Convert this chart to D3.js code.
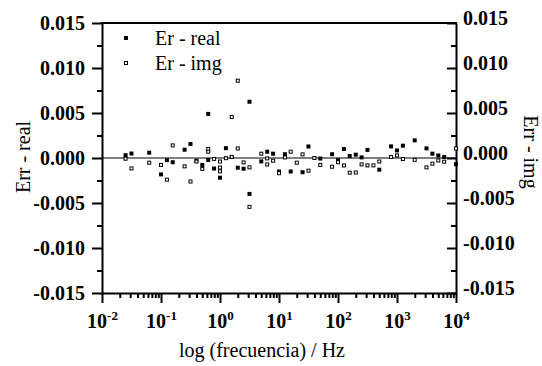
<!DOCTYPE html>
<html><head><meta charset="utf-8">
<script src="https://cdn.jsdelivr.net/npm/d3@7"></script>
<style>body{margin:0;background:#fff}svg{display:block}
svg text{font-family:"Liberation Serif",serif}
.b{font-weight:700}
</style>
</head><body>
<svg id="c" width="542" height="366"></svg>
<script>
const realFreq=[0.0251,0.0316,0.0631,0.1,0.126,0.158,0.251,0.316,0.398,0.501,0.631,0.631,0.794,1.0,1.26,1.58,2.0,2.51,3.16,3.16,5.01,6.31,7.94,10,12.6,15.8,25.1,31.6,50.1,79.4,100,126,158,200,251,316,501,794,1000,1259,1995,3162,3981,5012,6310,10000];
const realVal=[0.00031,0.0005,0.00059,-0.00182,-0.00024,-0.00047,0.00092,0.00156,-0.0003,-0.00077,0.0049,-0.00022,-0.00117,-0.00219,0.00109,0.00011,-0.00108,-0.00119,0.00625,-0.00399,-0.00038,0.0007,0.00048,-0.0015,0.00042,-0.0015,-0.00158,0.00128,-0.00006,0.00042,-0.00024,0.001,0.00022,0.00037,0.00007,0.0009,-0.0013,0.00129,0.00084,0.00137,0.00196,0.00107,0.00048,0.00028,0.00011,-0.00069];
const imgFreq=[0.0251,0.0316,0.0631,0.1,0.126,0.158,0.251,0.316,0.398,0.501,0.631,0.631,0.794,1.0,1.0,1.0,1.26,1.58,1.58,2.0,2.0,2.51,3.16,3.16,5.01,6.31,6.31,7.94,10,12.6,15.8,20.0,25.1,31.6,39.8,50.1,79.4,100,126,158,200,251,316,398,501,794,1000,1259,1995,3162,3981,5012,6310,10000];
const imgVal=[-0.00008,-0.00116,-0.00052,-0.00077,-0.00241,0.0014,-0.00093,-0.00261,-0.00039,-0.00121,0.001,0.0007,-0.0001,-0.00039,-0.00106,-0.00149,-0.00002,0.00456,0.00012,0.00859,0.00106,-0.00049,-0.00104,-0.00543,0.00048,-0.00004,-0.00072,-0.0003,-0.00169,0.00006,0.0007,-0.00052,0.0004,-0.00141,0,-0.00077,-0.00097,-0.00047,-0.00083,-0.00163,-0.00161,-0.00071,-0.00082,-0.00082,-0.00039,0.00012,0.00029,-0.00011,-0.00021,-0.00104,-0.00063,-0.00027,-0.00041,0.00106];
const yTicks=[-0.015,-0.01,-0.005,0,0.005,0.01,0.015];
const yMinor=[-0.0125,-0.0075,-0.0025,0.0025,0.0075,0.0125];
const xTicks=[0.01,0.1,1,10,100,1000,10000];
const xExp=["-2","-1","0","1","2","3","4"];
const seriesNames=["Er - real","Er - img"];
const xTitle="log (frecuencia) / Hz";
const yTitleL="Err - real", yTitleR="Err - img";

const svg=d3.select("#c");
const L=102,R=456,T=23,B=293;
const x=d3.scaleLog().domain([0.01,10000]).range([L,R]);
const y=d3.scaleLinear().domain([-0.015,0.015]).range([B,T]);
const xMinor=[];
xTicks.slice(0,-1).forEach(t=>{for(let m=2;m<=9;m++)xMinor.push(t*m);});

function style(g){
  g.attr("font-family",null).attr("font-size",null);
  g.selectAll("path.domain").attr("stroke","#000").attr("stroke-width",2);
  g.selectAll(".tick line").attr("stroke","#000").attr("stroke-width",2);
  g.selectAll("text").attr("class","b").style("font-size","20px").attr("fill","#000");
}
const fmt=d=>d.toFixed(3);

// zero line
svg.append("line").attr("x1",L).attr("x2",R).attr("y1",y(0)).attr("y2",y(0)).attr("stroke","#000").attr("stroke-width",1);

// left axis
const gl=svg.append("g").attr("transform",`translate(${L},0)`);
gl.call(d3.axisLeft(y).tickValues(yMinor).tickSize(5).tickFormat(""));
gl.call(g=>g.select("path.domain").remove());
const gl2=svg.append("g").attr("transform",`translate(${L},0)`)
  .call(d3.axisLeft(y).tickValues(yTicks).tickSizeInner(10).tickSizeOuter(0).tickPadding(7).tickFormat(fmt));
style(gl);style(gl2);

// right axis (ticks inward)
const gr=svg.append("g").attr("transform",`translate(${R},0)`);
gr.call(d3.axisRight(y).tickValues(yMinor).tickSize(-5).tickFormat(""));
gr.call(g=>g.select("path.domain").remove());
const gr2=svg.append("g").attr("transform",`translate(${R},0)`)
  .call(d3.axisRight(y).tickValues(yTicks).tickSizeInner(-9).tickSizeOuter(0).tickPadding(7).tickFormat(fmt));
style(gr);style(gr2);
gr2.selectAll("text").attr("y",-5);

// bottom axis
const gb=svg.append("g").attr("transform",`translate(0,${B})`);
gb.call(d3.axisBottom(x).tickValues(xMinor).tickSize(5).tickFormat(""));
gb.call(g=>g.select("path.domain").remove());
const gb2=svg.append("g").attr("transform",`translate(0,${B})`)
  .call(d3.axisBottom(x).tickValues(xTicks).tickSizeInner(10).tickSizeOuter(0).tickFormat(""));
style(gb);style(gb2);
gb2.selectAll(".tick").each(function(d,i){
  const t=d3.select(this).append("text").attr("y",35).attr("text-anchor","middle")
    .attr("class","b").style("font-size","20px").attr("fill","#000");
  t.append("tspan").text("10");
  t.append("tspan").attr("dy",-8).style("font-size","13px").text(xExp[i]);
});

// top frame line
svg.append("line").attr("x1",L-1).attr("x2",R+1).attr("y1",T).attr("y2",T).attr("stroke","#000").attr("stroke-width",2);

// data
svg.append("g").selectAll("rect").data(realFreq.map((f,i)=>[f,realVal[i]])).join("rect")
  .attr("x",d=>x(d[0])-2).attr("y",d=>y(d[1])-2).attr("width",4).attr("height",4).attr("fill","#000");
svg.append("g").selectAll("rect").data(imgFreq.map((f,i)=>[f,imgVal[i]])).join("rect")
  .attr("x",d=>x(d[0])-1.5).attr("y",d=>y(d[1])-1.5).attr("width",3).attr("height",3)
  .attr("fill","#fff").attr("stroke","#000").attr("stroke-width",1);

// legend
svg.append("rect").attr("x",124).attr("y",36).attr("width",4).attr("height",4).attr("fill","#000");
svg.append("rect").attr("x",124.5).attr("y",61.5).attr("width",3).attr("height",3).attr("fill","#fff").attr("stroke","#000");
svg.append("text").attr("x",155).attr("y",45).style("font-size","20px").text(seriesNames[0]);
svg.append("text").attr("x",155).attr("y",70).style("font-size","20px").text(seriesNames[1]);

// titles
svg.append("text").attr("x",(L+R)/2-17).attr("y",357).attr("text-anchor","middle").style("font-size","20px").text(xTitle);
svg.append("text").attr("transform","translate(30,157) rotate(-90)").attr("text-anchor","middle").style("font-size","20px").text(yTitleL);
svg.append("text").attr("transform","translate(524,152) rotate(90)").attr("text-anchor","middle").style("font-size","20px").text(yTitleR);
</script>
</body></html>
